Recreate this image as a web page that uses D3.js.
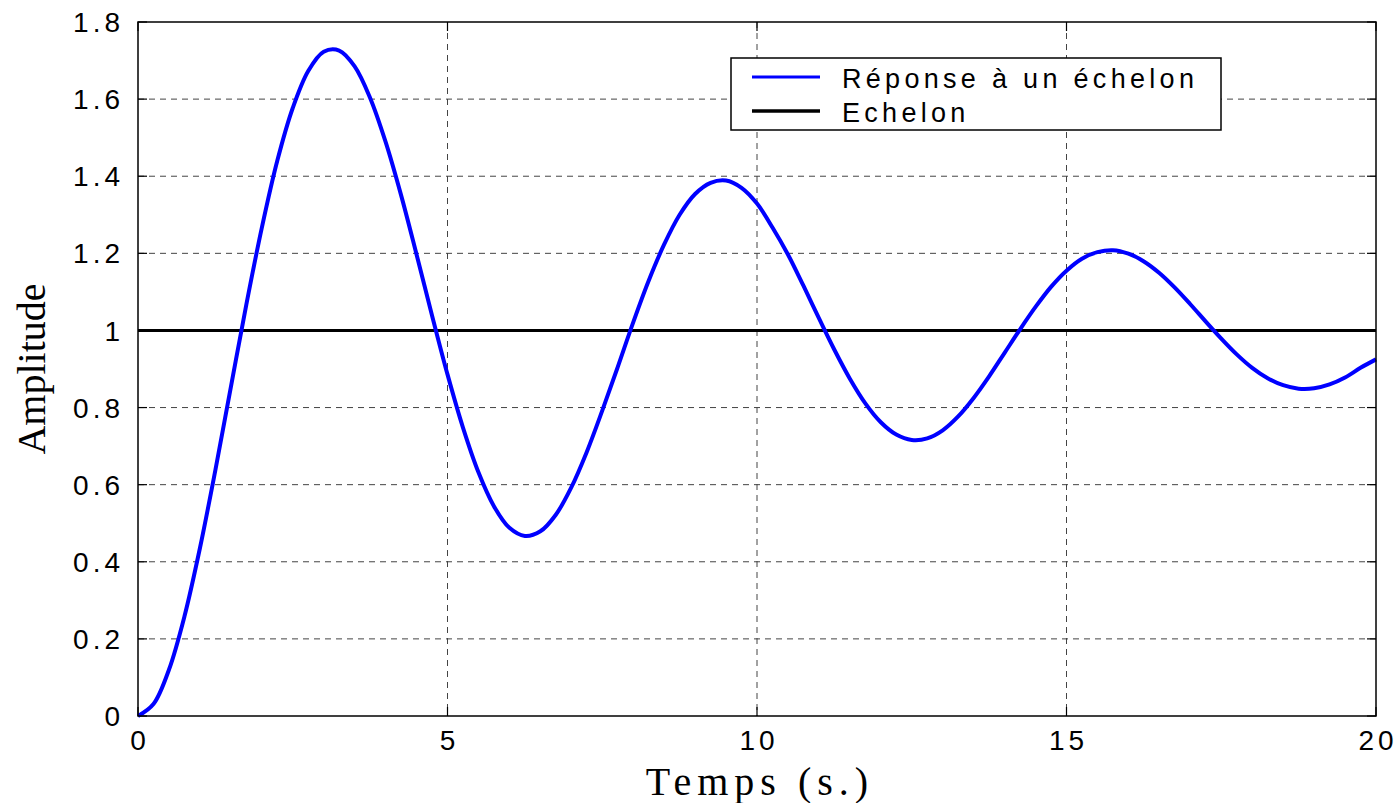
<!DOCTYPE html>
<html>
<head>
<meta charset="utf-8">
<script src="https://cdn.jsdelivr.net/npm/d3@7"></script>
<style>
  body { margin: 0; background: #fff; }
  .tick-label { font-family: "Liberation Sans", Arial, sans-serif; font-size: 28px; letter-spacing: 4px; fill: #000; }
  .axis-title { font-family: "Liberation Serif", "Times New Roman", serif; font-size: 40px; fill: #000; }
  .legend-text { font-family: "Liberation Sans", Arial, sans-serif; font-size: 27px; letter-spacing: 4.3px; fill: #000; }
</style>
</head>
<body>
<div id="chart"></div>
<script>
// --- données ---
const temps = [
  0, 0.25, 0.5, 0.75, 1, 1.25, 1.5, 1.75, 2, 2.25, 2.5, 2.75, 3, 3.25, 3.5, 3.75,
  4, 4.25, 4.5, 4.75, 5, 5.25, 5.5, 5.75, 6, 6.25, 6.5, 6.75, 7, 7.25, 7.5, 7.75,
  8, 8.25, 8.5, 8.75, 9, 9.25, 9.5, 9.75, 10, 10.25, 10.5, 10.75, 11, 11.25, 11.5, 11.75,
  12, 12.25, 12.5, 12.75, 13, 13.25, 13.5, 13.75, 14, 14.25, 14.5, 14.75, 15, 15.25, 15.5, 15.75,
  16, 16.25, 16.5, 16.75, 17, 17.25, 17.5, 17.75, 18, 18.25, 18.5, 18.75, 19, 19.25, 19.5, 19.75, 20
];
const reponse = [
  0, 0.031, 0.120, 0.258, 0.435, 0.638, 0.853, 1.067, 1.266, 1.440, 1.577, 1.673, 1.723, 1.726, 1.685, 1.603,
  1.489, 1.351, 1.197, 1.039, 0.886, 0.748, 0.632, 0.544, 0.488, 0.467, 0.479, 0.522, 0.593, 0.685, 0.792, 0.905,
  1.021, 1.129, 1.223, 1.300, 1.354, 1.383, 1.389, 1.370, 1.329, 1.267, 1.197, 1.116, 1.032, 0.950, 0.875, 0.811,
  0.762, 0.730, 0.716, 0.720, 0.741, 0.777, 0.825, 0.881, 0.942, 1.003, 1.061, 1.113, 1.155, 1.186, 1.203, 1.208,
  1.199, 1.179, 1.149, 1.111, 1.068, 1.023, 0.979, 0.938, 0.903, 0.876, 0.858, 0.849, 0.850, 0.860, 0.878, 0.903, 0.925
];
const echelonTemps = [0, 20];
const echelonValeurs = [1, 1];

const xTicks = [0, 5, 10, 15, 20];
const xTickLabels = ["0", "5", "10", "15", "20"];
const yTicks = [0, 0.2, 0.4, 0.6, 0.8, 1, 1.2, 1.4, 1.6, 1.8];
const yTickLabels = ["0", "0.2", "0.4", "0.6", "0.8", "1", "1.2", "1.4", "1.6", "1.8"];

const legendLabels = ["Réponse à un échelon", "Echelon"];
const legendColors = ["#0000ff", "#000000"];

// --- configuration ---
const width = 1397, height = 803;
const margin = { left: 138, top: 22, right: 21, bottom: 87 };
const innerW = width - margin.left - margin.right;
const innerH = height - margin.top - margin.bottom;

const svg = d3.select("#chart").append("svg")
  .attr("width", width)
  .attr("height", height);

const x = d3.scaleLinear().domain([0, 20]).range([margin.left, margin.left + innerW]);
const y = d3.scaleLinear().domain([0, 1.8]).range([margin.top + innerH, margin.top]);

// grille pointillée
svg.append("g").selectAll("line.vgrid")
  .data(xTicks.slice(1, -1))
  .join("line")
  .attr("x1", d => x(d)).attr("x2", d => x(d))
  .attr("y1", y(1.8)).attr("y2", y(0))
  .attr("stroke", "#444").attr("stroke-width", 1)
  .attr("stroke-dasharray", "6,5");

svg.append("g").selectAll("line.hgrid")
  .data(yTicks.slice(1, -1))
  .join("line")
  .attr("x1", x(0)).attr("x2", x(20))
  .attr("y1", d => y(d)).attr("y2", d => y(d))
  .attr("stroke", "#444").attr("stroke-width", 1)
  .attr("stroke-dasharray", "6,5");

// graduations vers l'intérieur
const tickLen = 9;
const ticks = svg.append("g").attr("stroke", "#000").attr("stroke-width", 1.2);
xTicks.forEach(t => {
  ticks.append("line").attr("x1", x(t)).attr("x2", x(t)).attr("y1", y(0)).attr("y2", y(0) - tickLen);
  ticks.append("line").attr("x1", x(t)).attr("x2", x(t)).attr("y1", y(1.8)).attr("y2", y(1.8) + tickLen);
});
yTicks.forEach(t => {
  ticks.append("line").attr("x1", x(0)).attr("x2", x(0) + tickLen).attr("y1", y(t)).attr("y2", y(t));
  ticks.append("line").attr("x1", x(20)).attr("x2", x(20) - tickLen).attr("y1", y(t)).attr("y2", y(t));
});

// courbes
const ligne = d3.line().x(d => x(d[0])).y(d => y(d[1]));
const ligneLisse = d3.line().x(d => x(d[0])).y(d => y(d[1])).curve(d3.curveCatmullRom);

svg.append("path")
  .datum(echelonTemps.map((t, i) => [t, echelonValeurs[i]]))
  .attr("d", ligne)
  .attr("fill", "none")
  .attr("stroke", "#000")
  .attr("stroke-width", 3);

svg.append("path")
  .datum(temps.map((t, i) => [t, reponse[i]]))
  .attr("d", ligneLisse)
  .attr("fill", "none")
  .attr("stroke", "#0000ff")
  .attr("stroke-width", 4)
  .attr("stroke-linejoin", "round");

// cadre
svg.append("rect")
  .attr("x", x(0)).attr("y", y(1.8))
  .attr("width", innerW).attr("height", innerH)
  .attr("fill", "none").attr("stroke", "#000").attr("stroke-width", 1.5);

// étiquettes des graduations
svg.append("g").selectAll("text")
  .data(yTicks)
  .join("text")
  .attr("class", "tick-label")
  .attr("x", x(0) - 14)
  .attr("y", d => y(d))
  .attr("dy", "0.36em")
  .attr("text-anchor", "end")
  .text((d, i) => yTickLabels[i]);

svg.append("g").selectAll("text")
  .data(xTicks)
  .join("text")
  .attr("class", "tick-label")
  .attr("x", d => x(d) + 2)
  .attr("y", y(0) + 34)
  .attr("text-anchor", "middle")
  .text((d, i) => xTickLabels[i]);

// titres des axes
svg.append("text")
  .attr("class", "axis-title")
  .attr("x", x(10) + 3)
  .attr("y", 795)
  .attr("text-anchor", "middle")
  .style("letter-spacing", "6px")
  .text("Temps (s.)");

svg.append("text")
  .attr("class", "axis-title")
  .attr("transform", `translate(45, ${(y(0) + y(1.8)) / 2}) rotate(-90)`)
  .attr("text-anchor", "middle")
  .text("Amplitude");

// légende
const leg = svg.append("g");
leg.append("rect")
  .attr("x", 731).attr("y", 58)
  .attr("width", 490).attr("height", 72)
  .attr("fill", "#fff").attr("stroke", "#000").attr("stroke-width", 1.5);

legendLabels.forEach((lab, i) => {
  const yy = 77 + i * 34;
  leg.append("line")
    .attr("x1", 752).attr("x2", 820)
    .attr("y1", yy).attr("y2", yy)
    .attr("stroke", legendColors[i])
    .attr("stroke-width", i === 0 ? 3 : 3.5);
  leg.append("text")
    .attr("class", "legend-text")
    .attr("x", 842).attr("y", yy + 11)
    .text(lab);
});
</script>
</body>
</html>
